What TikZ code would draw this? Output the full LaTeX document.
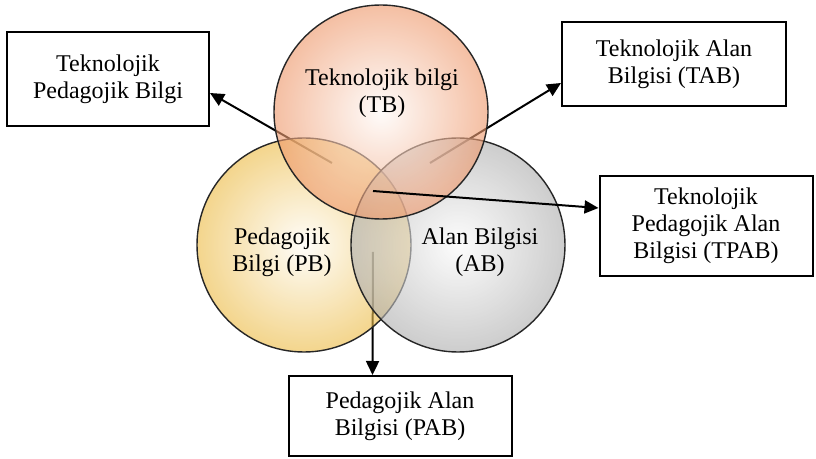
\documentclass[tikz,border=0pt]{standalone}
\usepackage{fontspec}
\setmainfont{Liberation Serif}
\newfontfamily\tnrfont{Liberation Serif}
\usetikzlibrary{arrows.meta,positioning}

\definecolor{tbOrange}{RGB}{236,140,90}
\definecolor{pbYellow}{RGB}{234,180,50}
\definecolor{abGrey}{RGB}{165,165,165}

\begin{document}
\begin{tikzpicture}[
    x=0.5pt, y=-0.5pt,
    every node/.style={font=\tnrfont\fontsize{12}{13.5}\selectfont, align=center},
    mybox/.style 2 args={draw, line width=1pt, inner sep=0pt,
        minimum width=#1, minimum height=#2},
    mybubble/.style={circle, draw=black!85, line width=0.7pt,
        minimum size=107pt, inner sep=0pt, shade,
        inner color=#1!5, outer color=#1!90, fill opacity=0.62},
    myarrow/.style={-{Triangle[length=7pt,width=6.5pt]}, line width=1pt}
]
\useasboundingbox (0,0) rectangle (816,459);

% kutular
\node[mybox={101pt}{47pt}] (TPB) at (108,79) {Teknolojik\\Pedagojik Bilgi};
\node[mybox={112pt}{42pt}] (TAB) at (674,64) {Teknolojik Alan\\Bilgisi (TAB)};
\node[mybox={106.5pt}{50pt}] (TPAB) at (706,226) {Teknolojik\\Pedagojik Alan\\Bilgisi (TPAB)};
\node[mybox={111.5pt}{40pt}] (PAB) at (400,416) {Pedagojik Alan\\Bilgisi (PAB)};

% oklarin baslangic noktalari
\coordinate (sTPB) at (332,163);
\coordinate (sTAB) at (430,163);
\coordinate (sTPAB) at (373,191);
\coordinate (sPAB) at (373,252);

\draw[myarrow] (sTPB) -- ([yshift=-7pt]TPB.east);
\draw[myarrow] (sTAB) -- ([yshift=-9.5pt]TAB.west);
\draw[myarrow] (sPAB) -- ([xshift=-13.75pt]PAB.north);

% daireler
\node[mybubble=pbYellow] (PB) at (304,245) {};
\node[mybubble=abGrey] (AB) at (458,245) {};
\node[mybubble=tbOrange] (TB) at (381,112) {};

\draw[myarrow] (sTPAB) -- ([yshift=9pt]TPAB.west);

% daire yazilari
\node (TBtext) at (382,93) {Teknolojik bilgi\\(TB)};
\node (PBtext) at (282,252) {Pedagojik\\Bilgi (PB)};
\node (ABtext) at (480,252) {Alan Bilgisi\\(AB)};
\end{tikzpicture}
\end{document}
